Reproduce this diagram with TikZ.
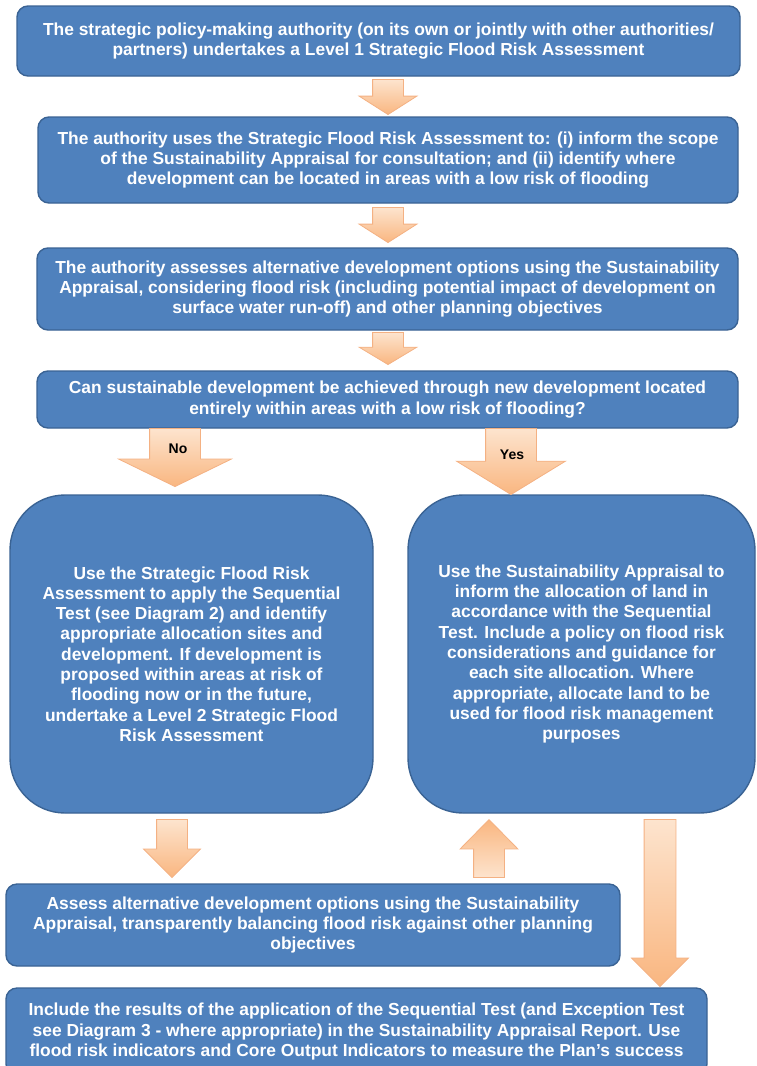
\documentclass[tikz,border=0pt]{standalone}
\usepackage{fontspec}
\setmainfont{Liberation Sans}
\usetikzlibrary{shapes.arrows}
\definecolor{boxblue}{HTML}{4F81BD}
\definecolor{boxline}{HTML}{3A6394}
\definecolor{arrlight}{HTML}{FDE4CE}
\definecolor{arrdark}{HTML}{F9B680}
\definecolor{arrline}{HTML}{F4B183}

\begin{document}
\begin{tikzpicture}[x=1pt,y=-1pt,
  box/.style={draw=boxline,line width=1.4pt,fill=boxblue,rounded corners=11pt,text=white,
    font=\fontsize{17.4}{20.3}\selectfont\bfseries,align=center,inner sep=0pt},
  bigbox/.style={box,rounded corners=55pt},
  blockarr/.style={single arrow,draw=arrline,line width=0.8pt,inner ysep=0pt,anchor=tip,
    top color=arrlight,bottom color=arrdark},
  dnarr/.style={blockarr,shape border rotate=270},
  uparr/.style={blockarr,shape border rotate=90,top color=arrdark,bottom color=arrlight},
  answer/.style={font=\fontsize{14}{14}\selectfont\bfseries,inner sep=0pt}]
\useasboundingbox (0,0) rectangle (757,1066);
\clip (0,0) rectangle (757,1066);

\node[box,minimum width=723pt,minimum height=70pt] (level1) at (378.5,41)
  {The strategic policy-making authority (on its own or jointly with other authorities/\\
   partners) undertakes a Level 1 Strategic Flood Risk Assessment};
\node[box,minimum width=700pt,minimum height=86pt] (scope) at (388,160)
  {The authority uses the Strategic Flood Risk Assessment to: (i) inform the scope\\
   of the Sustainability Appraisal for consultation; and (ii) identify where\\
   development can be located in areas with a low risk of flooding};
\node[box,minimum width=701pt,minimum height=82pt] (options) at (387.5,289)
  {The authority assesses alternative development options using the Sustainability\\
   Appraisal, considering flood risk (including potential impact of development on\\
   surface water run-off) and other planning objectives};
\node[box,minimum width=701pt,minimum height=57pt] (question) at (387.5,399.5)
  {Can sustainable development be achieved through new development located\\
   entirely within areas with a low risk of flooding?};
\node[bigbox,minimum width=363pt,minimum height=318pt] (seqtest) at (191.5,654)
  {Use the Strategic Flood Risk\\ Assessment to apply the Sequential\\
   Test (see Diagram 2) and identify\\ appropriate allocation sites and\\
   development. If development is\\ proposed within areas at risk of\\
   flooding now or in the future,\\ undertake a Level 2 Strategic Flood\\
   Risk Assessment};
\node[bigbox,minimum width=347pt,minimum height=318pt] (allocate) at (581.5,654)
  {Use the Sustainability Appraisal to\\ inform the allocation of land in\\
   accordance with the Sequential\\ Test. Include a policy on flood risk\\
   considerations and guidance for\\ each site allocation. Where\\
   appropriate, allocate land to be\\ used for flood risk management\\
   purposes};
\node[box,minimum width=614pt,minimum height=82pt] (balance) at (313,925)
  {Assess alternative development options using the Sustainability\\
   Appraisal, transparently balancing flood risk against other planning\\
   objectives};
\node[box,minimum width=701pt,minimum height=87pt] (report) at (356.5,1031.5)
  {Include the results of the application of the Sequential Test (and Exception Test\\
   see Diagram 3 - where appropriate) in the Sustainability Appraisal Report. Use\\
   flood risk indicators and Core Output Indicators to measure the Plan’s success};

\node[dnarr,inner xsep=15pt,single arrow head extend=13.5pt,single arrow tip angle=115,
  minimum height=35pt] (a1) at (388,115) {};
\node[dnarr,inner xsep=15pt,single arrow head extend=13.5pt,single arrow tip angle=115,
  minimum height=35pt] (a2) at (388,243) {};
\node[dnarr,inner xsep=15pt,single arrow head extend=13.5pt,single arrow tip angle=118,
  minimum height=32pt] (a3) at (388,365) {};
\node[dnarr,inner xsep=25pt,single arrow head extend=31pt,single arrow tip angle=128,
  minimum height=58pt] (noarr) at (175,487) {};
\node[dnarr,inner xsep=25pt,single arrow head extend=29pt,single arrow tip angle=117,
  minimum height=66pt] (yesarr) at (511,495) {};
\node[answer] (nolab) at (178,449) {No};
\node[answer] (yeslab) at (512,455) {Yes};
\node[dnarr,inner xsep=15pt,single arrow head extend=13pt,single arrow tip angle=90,
  minimum height=58pt] (a4) at (172,878) {};
\node[uparr,inner xsep=15pt,single arrow head extend=13.5pt,single arrow tip angle=89,
  minimum height=58pt] (a5) at (489,819) {};
\node[dnarr,inner xsep=15.5pt,single arrow head extend=12.5pt,single arrow tip angle=90,
  minimum height=167pt] (a6) at (660,987) {};
\end{tikzpicture}
\end{document}
